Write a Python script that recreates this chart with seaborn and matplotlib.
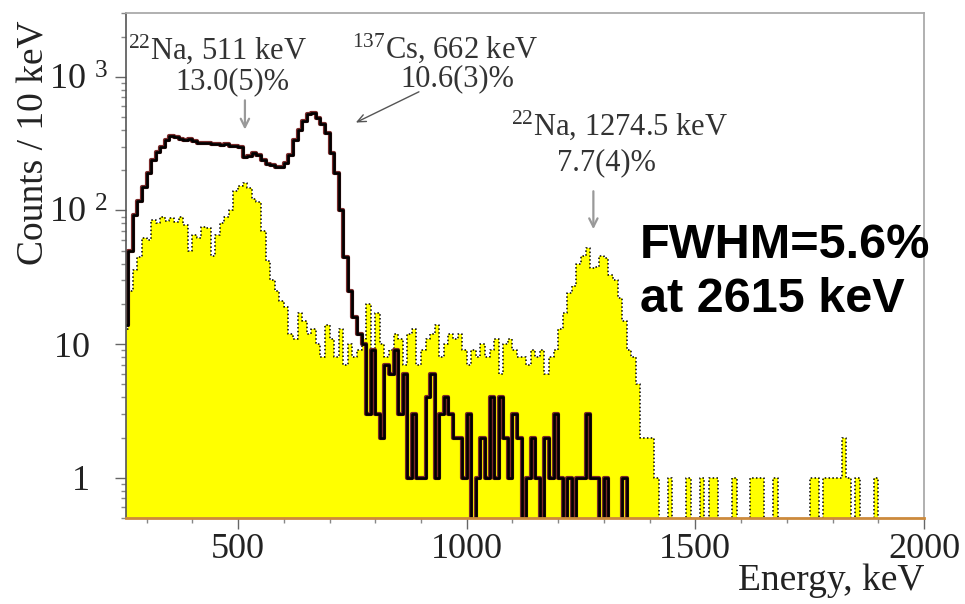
import numpy as np
import pandas as pd
import matplotlib
matplotlib.use("Agg")
import matplotlib.pyplot as plt
import matplotlib.patheffects as pe
from matplotlib.ticker import FixedLocator, FixedFormatter, LogLocator, MultipleLocator, NullFormatter
import seaborn as sns

# ---------------- data (counts per 10 keV bin, first bin starts at 250 keV) ----------------
bin_start = 250
bin_width = 10

na22_counts = [
    13, 25, 36, 45, 62, 60, 85, 80, 90, 84,
    88, 82, 90, 78, 50, 66, 62, 75, 74, 46,
    66, 80, 90, 100, 140, 152, 160, 148, 122, 116,
    70, 42, 30, 25, 21, 19, 12, 11, 17, 15,
    12, 13, 10, 8, 14, 11, 8, 13, 7, 10,
    8, 9, 11, 20, 9, 17, 10, 8, 9, 12,
    11, 7, 12, 13, 7, 9, 11, 12, 14, 8,
    10, 12, 11, 12, 9, 7, 9, 8, 10, 8,
    9, 11, 6, 10, 11, 9, 8, 8, 7, 9,
    8, 9, 6, 8, 9, 13, 17, 24, 27, 40,
    46, 52, 37, 38, 46, 44, 33, 30, 22, 15,
    9, 8, 5, 2, 2, 2, 1, 0, 0, 1,
    0, 0, 0, 1, 0, 0, 1, 0, 1, 1,
    0, 0, 0, 1, 0, 0, 0, 1, 1, 1,
    0, 0, 1, 0, 0, 0, 0, 0, 0, 0,
    1, 1, 0, 1, 1, 1, 1, 2, 1, 0,
    1, 0, 0, 0, 1, 0, 0, 0, 0, 0,
    0, 0, 0, 0, 0,
]

cs137_counts = [
    14, 50, 92, 118, 150, 190, 237, 275, 300, 334,
    362, 355, 345, 338, 342, 330, 322, 318, 320, 312,
    316, 308, 312, 302, 306, 298, 250, 255, 268, 262,
    240, 222, 218, 210, 213, 226, 258, 335, 400, 470,
    530, 540, 495, 440, 377, 268, 190, 100, 45, 25,
    16, 12, 10, 3, 9, 3, 2, 7, 6, 9,
    3, 6, 1, 3, 1, 1, 4, 6, 1, 3,
    4, 3, 2, 2, 1, 3, 0, 1, 2, 1,
    4, 1, 4, 2, 1, 3, 2, 0, 1, 2,
    1, 0, 2, 1, 3, 1, 0, 1, 0, 1,
    1, 3, 1, 1, 0, 1, 0, 0, 0, 1,
] + [0] * 65

x_ticks = [500, 1000, 1500, 2000]
y_ticks = [1, 10, 100, 1000]
y_tick_labels = ["1  ", "10  ", "10 $^{2}$", "10 $^{3}$"]

# ---------------- style ----------------
sns.set_theme(style="ticks")
plt.rcParams["font.family"] = ["Liberation Serif", "DejaVu Serif"]
plt.rcParams["mathtext.fontset"] = "custom"
plt.rcParams["mathtext.rm"] = "Liberation Serif"
plt.rcParams["mathtext.default"] = "regular"

edges = [bin_start + bin_width * i for i in range(len(na22_counts) + 1)]
centers = [e + bin_width / 2 for e in edges[:-1]]
df_na = pd.DataFrame({"energy": centers, "counts": na22_counts})
df_cs = pd.DataFrame({"energy": centers, "counts": cs137_counts})

fig = plt.figure(figsize=(9.65, 6.04), dpi=100)
ax = fig.add_axes([0.1306, 0.1424, 0.8269, 0.8361])
ax.set_yscale("log")

sns.histplot(data=df_na, x="energy", weights="counts", bins=edges, element="step",
             fill=True, color="#ffff00", alpha=1, edgecolor="black",
             linewidth=1.1, linestyle=(0, (1, 1.5)), ax=ax)
sns.histplot(data=df_cs, x="energy", weights="counts", bins=edges, element="step",
             fill=False, color="black", linewidth=1.9,
             path_effects=[pe.Stroke(linewidth=3.0, foreground="#7a2a2a"), pe.Normal()],
             ax=ax)

ax.set_xlim(255, 2000)
ax.set_ylim(0.5, 3000)

ax.xaxis.set_major_locator(FixedLocator(x_ticks))
ax.xaxis.set_minor_locator(MultipleLocator(100))
ax.yaxis.set_major_locator(FixedLocator(y_ticks))
ax.yaxis.set_major_formatter(FixedFormatter(y_tick_labels))
ax.yaxis.set_minor_locator(LogLocator(base=10, subs=np.arange(2, 10)))
ax.yaxis.set_minor_formatter(NullFormatter())

ax.tick_params(axis="both", which="major", direction="out", length=8, width=1,
               color="#666666", labelsize=26, labelcolor="#222222")
ax.tick_params(axis="both", which="minor", direction="out", length=3.5, width=1,
               color="#888888")
ax.tick_params(axis="x", which="major", pad=3)
ax.tick_params(axis="y", which="major", pad=5)

for side in ["top", "right"]:
    ax.spines[side].set_color("#aaaaaa")
    ax.spines[side].set_linewidth(1.3)
ax.spines["left"].set_color("#555555")
ax.spines["left"].set_linewidth(1.2)
ax.spines["bottom"].set_color("#cc8a3c")
ax.spines["bottom"].set_linewidth(2)

ax.set_ylabel("Counts / 10 keV", fontsize=27, color="#222222", loc="top")
ax.yaxis.set_label_coords(-0.093, 0.985)
ax.set_xlabel("Energy, keV", fontsize=27, color="#222222", loc="right")
ax.xaxis.set_label_coords(1.0, -0.091)

# ---------------- annotations ----------------
tc = "#333333"
ax.text(455, 1619, "$^{22}$Na, 511 keV", fontsize=22, ha="center", va="center", color=tc)
ax.text(487, 912, "13.0(5)%", fontsize=22, ha="center", va="center", color=tc)
ax.annotate("", xy=(515, 384), xytext=(515, 699),
            arrowprops=dict(arrowstyle="->,head_length=0.5,head_width=0.25",
                            color="#999999", lw=1.6))

ax.text(952, 1633, "$^{137}$Cs, 662 keV", fontsize=22, ha="center", va="center", color=tc)
ax.text(980, 968, "10.6(3)%", fontsize=22, ha="center", va="center", color=tc)
ax.annotate("", xy=(752, 445), xytext=(901, 788),
            arrowprops=dict(arrowstyle="->,head_length=0.5,head_width=0.22",
                            color="#555555", lw=1.0))

ax.text(1335, 432, "$^{22}$Na, 1274.5 keV", fontsize=22, ha="center", va="center", color=tc)
ax.text(1306, 229, "7.7(4)%", fontsize=22, ha="center", va="center", color=tc)
ax.annotate("", xy=(1277, 69), xytext=(1277, 146),
            arrowprops=dict(arrowstyle="->,head_length=0.5,head_width=0.25",
                            color="#999999", lw=1.6))

ax.text(1379, 55, "FWHM=5.6%", fontsize=35, fontweight="bold",
        family=["Liberation Sans", "DejaVu Sans"], ha="left", va="center", color="black")
ax.text(1379, 21.5, "at 2615 keV", fontsize=35, fontweight="bold",
        family=["Liberation Sans", "DejaVu Sans"], ha="left", va="center", color="black")

fig.savefig("out.png", dpi=100, facecolor="white")
